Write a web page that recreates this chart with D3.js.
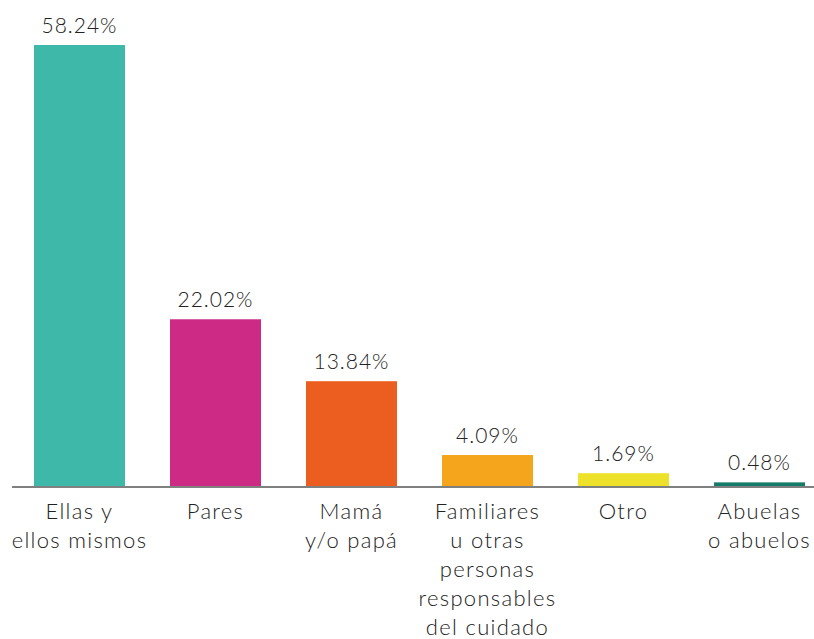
<!DOCTYPE html>
<html>
<head>
<meta charset="utf-8">
<script src="https://cdn.jsdelivr.net/npm/d3@7"></script>
<style>
  html, body { margin: 0; padding: 0; background: #fff; }
  svg { display: block; }
  text { font-family: "Lato", "Open Sans", sans-serif; font-weight: 300; fill: #222; }
</style>
</head>
<body>
<svg id="chart" width="814" height="639"></svg>
<script>
// Who the respondents turn to, share of answers (%)
const categories = [
  ["Ellas y", "ellos mismos"],
  ["Pares"],
  ["Mamá", "y/o papá"],
  ["Familiares", "u otras", "personas", "responsables", "del cuidado"],
  ["Otro"],
  ["Abuelas", "o abuelos"]
];
const values = [58.24, 22.02, 13.84, 4.09, 1.69, 0.48];
const colors = ["#3db8a9", "#cc2a85", "#eb5e1f", "#f5a51b", "#ede12b", "#167c6a"];

const svg = d3.select("#chart");
const baseY = 486;
const topY = 45;

const x = d3.scaleBand()
  .domain(d3.range(values.length))
  .range([34, 805])
  .paddingInner(0.331)
  .paddingOuter(0);

const y = d3.scaleLinear()
  .domain([0, 58.24])
  .range([baseY, topY]);

// bars
svg.append("g").selectAll("rect")
  .data(values)
  .join("rect")
  .attr("x", (d, i) => x(i))
  .attr("width", x.bandwidth())
  .attr("y", d => y(d))
  .attr("height", d => baseY - y(d))
  .attr("fill", (d, i) => colors[i]);

// value labels
svg.append("g").selectAll("text")
  .data(values)
  .join("text")
  .attr("x", (d, i) => x(i) + x.bandwidth() / 2)
  .attr("y", d => y(d) - 12)
  .attr("text-anchor", "middle")
  .attr("font-size", 21)
  .attr("letter-spacing", 1)
  .text(d => d.toFixed(2) + "%");

// baseline
svg.append("line")
  .attr("x1", 12).attr("x2", 814)
  .attr("y1", baseY + 1).attr("y2", baseY + 1)
  .attr("stroke", "#808080")
  .attr("stroke-width", 2);

// category labels
const lab = svg.append("g").selectAll("text")
  .data(categories)
  .join("text")
  .attr("text-anchor", "middle")
  .attr("font-size", 22)
  .attr("letter-spacing", 1.3)
  .attr("x", (d, i) => x(i) + x.bandwidth() / 2)
  .attr("y", 519);
lab.selectAll("tspan")
  .data((d, i) => d.map(s => ({ s, i })))
  .join("tspan")
  .attr("x", d => x(d.i) + x.bandwidth() / 2)
  .attr("dy", (d, j) => j === 0 ? 0 : 29)
  .text(d => d.s);
</script>
</body>
</html>
